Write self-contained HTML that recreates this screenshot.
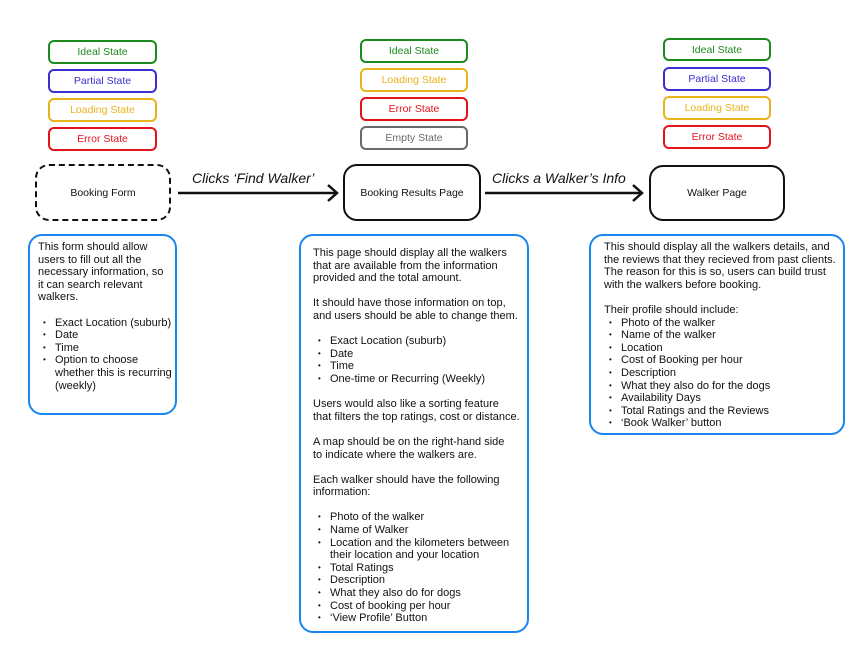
<!DOCTYPE html>
<html><head><meta charset="utf-8"><style>
body{margin:0;width:866px;height:658px;background:#fff;position:relative;font-family:"Liberation Sans",Arial,sans-serif;overflow:hidden}
.s{position:absolute;box-sizing:border-box;border:2px solid;border-radius:6px;font-size:10.5px;display:flex;align-items:center;justify-content:center;background:#fff}
.g{border-color:#1e8a1e;color:#1e8a1e}.b{border-color:#3b2fd0;color:#3b2fd0}.y{border-color:#e8b21c;color:#e8b21c}.r{border-color:#e3131b;color:#e3131b}.e{border-color:#6a6a6a;color:#6a6a6a}
.p{position:absolute;box-sizing:border-box;border:2px solid #111;border-radius:14px;font-size:10.5px;display:flex;align-items:center;justify-content:center;color:#111}
.n{position:absolute;box-sizing:border-box;border:2px solid #1a86f0;border-radius:14px;font-size:11px;line-height:12.6px;color:#111}
.n div{white-space:nowrap;height:12.6px}
.li{padding-left:17px;position:relative}
.li:before{content:"•";position:absolute;left:5px;font-size:8px}
.ind{padding-left:17px}
.lbl{position:absolute;font-style:italic;font-size:14px;color:#111}
</style></head><body>
<div class="s g" style="left:48px;top:40px;width:109px;height:24px">Ideal State</div>
<div class="s b" style="left:48px;top:69px;width:109px;height:24px">Partial State</div>
<div class="s y" style="left:48px;top:98px;width:109px;height:24px">Loading State</div>
<div class="s r" style="left:48px;top:127px;width:109px;height:24px">Error State</div>

<div class="s g" style="left:360px;top:39px;width:108px;height:24px">Ideal State</div>
<div class="s y" style="left:360px;top:68px;width:108px;height:24px">Loading State</div>
<div class="s r" style="left:360px;top:97px;width:108px;height:24px">Error State</div>
<div class="s e" style="left:360px;top:126px;width:108px;height:24px">Empty State</div>

<div class="s g" style="left:663px;top:38px;width:108px;height:23px">Ideal State</div>
<div class="s b" style="left:663px;top:67px;width:108px;height:24px">Partial State</div>
<div class="s y" style="left:663px;top:96px;width:108px;height:24px">Loading State</div>
<div class="s r" style="left:663px;top:125px;width:108px;height:24px">Error State</div>

<div class="p" style="left:35px;top:164px;width:136px;height:57px;border-style:dashed">Booking Form</div>
<div class="p" style="left:343px;top:164px;width:138px;height:57px">Booking Results Page</div>
<div class="p" style="left:649px;top:165px;width:136px;height:56px">Walker Page</div>

<svg style="position:absolute;left:0;top:0" width="866" height="658">
<g stroke="#111" stroke-width="2.5" fill="none">
<line x1="178" y1="193" x2="336" y2="193"/><polyline points="328,185 337,193 328,201"/>
<line x1="485" y1="193" x2="641" y2="193"/><polyline points="633,185 642,193 633,201"/>
</g></svg>
<div class="lbl" style="left:192px;top:170px">Clicks ‘Find Walker’</div>
<div class="lbl" style="left:492px;top:170px">Clicks a Walker’s Info</div>

<div class="n" style="left:28px;top:234px;width:149px;height:181px;padding:5px 0 0 8px">
<div>This form should allow</div><div>users to fill out all the</div><div>necessary information, so</div><div>it can search relevant</div><div>walkers.</div><div></div>
<div class="li">Exact Location (suburb)</div><div class="li">Date</div><div class="li">Time</div><div class="li">Option to choose</div><div class="ind">whether this is recurring</div><div class="ind">(weekly)</div>
</div>

<div class="n" style="left:299px;top:234px;width:230px;height:399px;padding:11px 0 0 12px">
<div>This page should display all the walkers</div><div>that are available from the information</div><div>provided and the total amount.</div><div></div>
<div>It should have those information on top,</div><div>and users should be able to change them.</div><div></div>
<div class="li">Exact Location (suburb)</div><div class="li">Date</div><div class="li">Time</div><div class="li">One-time or Recurring (Weekly)</div><div></div>
<div>Users would also like a sorting feature</div><div>that filters the top ratings, cost or distance.</div><div></div>
<div>A map should be on the right-hand side</div><div>to indicate where the walkers are.</div><div></div>
<div>Each walker should have the following</div><div>information:</div><div></div>
<div class="li">Photo of the walker</div><div class="li">Name of Walker</div><div class="li">Location and the kilometers between</div><div class="ind">their location and your location</div><div class="li">Total Ratings</div><div class="li">Description</div><div class="li">What they also do for dogs</div><div class="li">Cost of booking per hour</div><div class="li">‘View Profile’ Button</div>
</div>

<div class="n" style="left:589px;top:234px;width:256px;height:201px;padding:5px 0 0 13px">
<div>This should display all the walkers details, and</div><div>the reviews that they recieved from past clients.</div><div>The reason for this is so, users can build trust</div><div>with the walkers before booking.</div><div></div>
<div>Their profile should include:</div>
<div class="li">Photo of the walker</div><div class="li">Name of the walker</div><div class="li">Location</div><div class="li">Cost of Booking per hour</div><div class="li">Description</div><div class="li">What they also do for the dogs</div><div class="li">Availability Days</div><div class="li">Total Ratings and the Reviews</div><div class="li">‘Book Walker’ button</div>
</div>
</body></html>
